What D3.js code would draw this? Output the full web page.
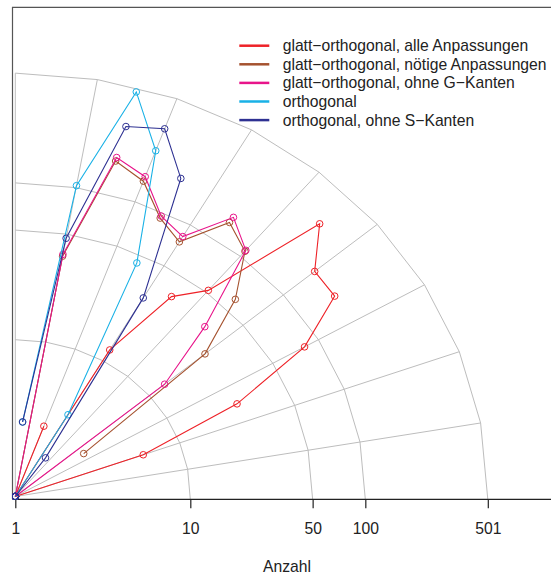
<!DOCTYPE html>
<html>
<head>
<meta charset="utf-8">
<script src="https://cdn.jsdelivr.net/npm/d3@7"></script>
<style>
body { margin: 0; background: #fff; }
text { font-family: "Liberation Sans", Arial, sans-serif; }
</style>
</head>
<body>
<script>
// categories: angle of each ray (degrees)
const angles = [0, 5, 10, 15, 20, 25, 30, 35, 40, 45, 50, 55, 60, 65, 70, 75, 80, 85];

// counts per angle (null = no value)
const alleAnpassungen   = [1, 1, 1, 1, 6, 25, 81, 169, 171, 288, 52, 36, 12, 1, 3, 1, 1, 1];
const noetigeAnpassungen = [null, null, null, null, null, null, null, 3, 26, 60, 110, 136, 75, 91, 138, 164, 36, 1];
const ohneGKanten       = [1, 1, 1, 1, 1, 1, 1, 1, 13, 34, 112, 149, 82, 94, 148, 173, 37, 1];
const orthogonal        = [1, 1, 1, 1, 1, 1, 1, 1, 1, 1, 1, 1, 4, 44, 222, 469, 103, 3];
const ohneSKanten       = [1, 1, 1, 1, 1, 1, 1, 1, 1, 1, 1, 2, 29, 173, 313, 277, 47, 3];

const seriesNames = [
    "glatt\u2212orthogonal, alle Anpassungen",
    "glatt\u2212orthogonal, nötige Anpassungen",
    "glatt\u2212orthogonal, ohne G\u2212Kanten",
    "orthogonal",
    "orthogonal, ohne S\u2212Kanten"
];
const seriesValues = [alleAnpassungen, noetigeAnpassungen, ohneGKanten, orthogonal, ohneSKanten];
const seriesColors = ["#ee2228", "#a5522f", "#e8148a", "#19b1e6", "#2e3192"];

const gridAngles = [0, 10, 20, 30, 40, 50, 60, 70, 80, 90];
const arcValues = [10, 50, 100, 501];
const tickValues = [1, 10, 50, 100, 501];

const width = 551, height = 578;
const x0 = 15.3, y0 = 496.5, aspect = 0.896;
const box = {left: 12.5, top: 7.3, right: 562, bottom: 499.3};

const svg = d3.select("body").append("svg")
    .attr("width", width).attr("height", height);

const x = d3.scaleLog().domain([1, 501]).range([x0, x0 + 472.5]);
const radius = v => x(v) - x0;
const rad = d3.scaleLinear().domain([0, 90]).range([0, Math.PI / 2]);

function pos(v, a) {
    return [x0 + radius(v) * Math.cos(rad(a)), y0 - radius(v) * Math.sin(rad(a)) * aspect];
}

svg.append("defs").append("clipPath").attr("id", "plotClip")
    .append("rect")
    .attr("x", box.left).attr("y", box.top)
    .attr("width", box.right - box.left).attr("height", box.bottom - box.top);

// grid: rays and polygonal arcs
const grid = svg.append("g").attr("fill", "none").attr("stroke", "#bdbdbd").attr("stroke-width", 1);

gridAngles.filter(a => a > 0).forEach(a => {
    const p = pos(501, a);
    grid.append("line")
        .attr("x1", x0).attr("y1", y0)
        .attr("x2", p[0]).attr("y2", p[1]);
});

arcValues.forEach(v => {
    const pts = gridAngles.map(a => pos(v, a));
    pts[0] = [pts[0][0], box.bottom];
    grid.append("path").attr("d", d3.line()(pts));
});

// box (left, top) and axis line
svg.append("path")
    .attr("d", `M${box.left},${box.bottom}V${box.top}H${box.right}`)
    .attr("fill", "none").attr("stroke", "#555").attr("stroke-width", 1.2);
svg.append("line")
    .attr("x1", box.left).attr("x2", box.right)
    .attr("y1", box.bottom).attr("y2", box.bottom)
    .attr("stroke", "#222").attr("stroke-width", 1.2);

const axis = svg.append("g")
    .attr("transform", `translate(0,${box.bottom})`)
    .call(d3.axisBottom(x).tickValues(tickValues).tickFormat(d3.format("d")).tickSize(9).tickPadding(15));
axis.select(".domain").remove();
axis.selectAll(".tick line").attr("stroke", "#222").attr("stroke-width", 1.2);
axis.selectAll(".tick text")
    .attr("font-size", "15.7px").attr("fill", "#222")
    .attr("font-family", "'Liberation Sans', Arial, sans-serif");

svg.append("text")
    .attr("x", 287).attr("y", 572)
    .attr("text-anchor", "middle")
    .attr("font-size", "15.7px").attr("fill", "#222")
    .text("Anzahl");

// series
const plot = svg.append("g").attr("clip-path", "url(#plotClip)");
seriesValues.forEach((vals, i) => {
    const data = angles.map((a, j) => ({a: a, v: vals[j]}));
    const g = plot.append("g");
    g.append("path")
        .attr("d", d3.line()
            .defined(d => d.v != null)
            .x(d => pos(d.v, d.a)[0])
            .y(d => pos(d.v, d.a)[1])(data))
        .attr("fill", "none")
        .attr("stroke", seriesColors[i])
        .attr("stroke-width", 1.1);
    g.selectAll("circle")
        .data(data.filter(d => d.v != null))
        .join("circle")
        .attr("cx", d => pos(d.v, d.a)[0])
        .attr("cy", d => pos(d.v, d.a)[1])
        .attr("r", 3.3)
        .attr("fill", "none")
        .attr("stroke", seriesColors[i])
        .attr("stroke-width", 1);
});

// legend
const legend = svg.append("g");
seriesNames.forEach((name, i) => {
    const y = 45.7 + i * 18.6;
    legend.append("line")
        .attr("x1", 239.3).attr("x2", 269.3)
        .attr("y1", y).attr("y2", y)
        .attr("stroke", seriesColors[i]).attr("stroke-width", 2.5);
    legend.append("text")
        .attr("x", 282.7).attr("y", y).attr("dy", "0.35em")
        .attr("font-size", "15.7px").attr("fill", "#222")
        .text(name);
});
</script>
</body>
</html>
